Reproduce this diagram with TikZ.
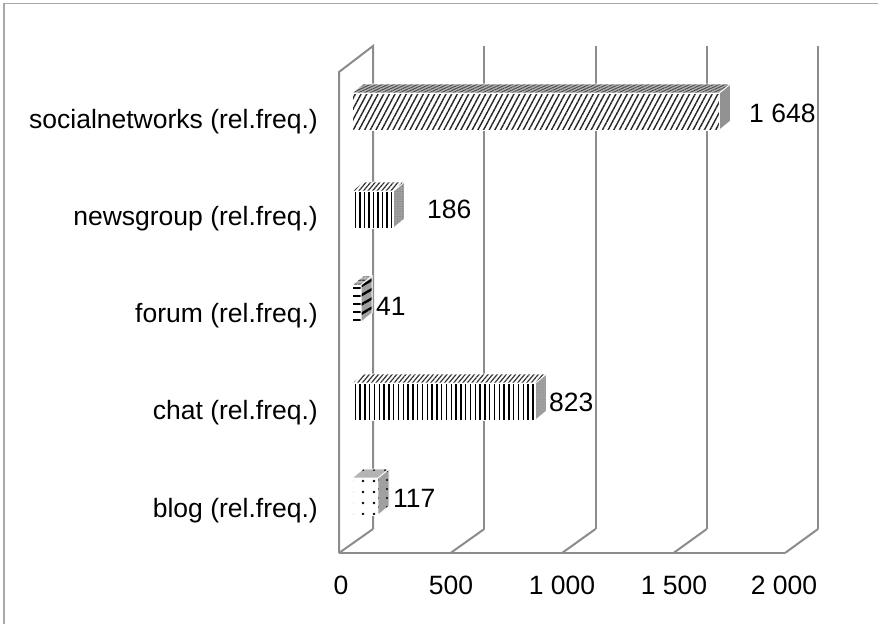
\documentclass[tikz,border=0pt]{standalone}
\usepackage{fontspec}
\setmainfont{Liberation Sans}
\usetikzlibrary{patterns.meta}
\definecolor{gridgray}{HTML}{8C8C8C}
\definecolor{framegray}{HTML}{A8A8A8}
\definecolor{sidegray}{HTML}{A0A0A0}
\definecolor{topgray}{HTML}{B4B4B4}

% one 3-D bar: #1 top of front face, #2 value, #3 front, #4 top, #5 side styles
\newcommand\chartbar[5]{%
  \pgfmathsetmacro\barend{352+#2*0.223}%
  \path[face,#4] (352,#1) -- (363,#1-9) -- (\barend+11,#1-9) -- (\barend,#1) -- cycle;
  \path[face,#3] (352,#1) rectangle (\barend,#1+37);
  \path[face,#5] (\barend,#1) -- (\barend+11,#1-9) -- (\barend+11,#1+28) -- (\barend,#1+37) -- cycle;
}

\begin{document}
\begin{tikzpicture}[x=1pt,y=-1pt,
  gridline/.style={draw=gridgray,line width=2pt},
  txt/.style={inner sep=0pt,font=\fontsize{26.5}{30}\selectfont},
  catlabel/.style={txt,anchor=base east},
  vallabel/.style={txt,anchor=base west},
  ticklabel/.style={txt,anchor=base},
  face/.style={preaction={fill=#1},draw=white,line width=0.8pt},
  face/.default=white]
\useasboundingbox (0,0) rectangle (878,624);
\fill[white] (0,0) rectangle (878,624);
\draw[framegray,line width=1.5pt] (4,624) -- (4,3.5) -- (878,3.5);

% walls, floor and gridlines
\draw[gridline] (339,553) -- (339,72) -- (373,46) -- (373,529);
\draw[gridline] (339,553) -- (785,553);
\foreach \k in {0,...,4} {
  \draw[gridline] (373+111.25*\k,529) -- (373+111.25*\k,46);
  \draw[gridline] (339+111.5*\k,553) -- (373+111.25*\k,529);
}

% bars
\chartbar{93}{1648}
  {pattern={Lines[angle=62,distance=5pt,line width=1.4pt]},pattern color=black!85}
  {face=topgray,pattern={Lines[angle=25,distance=2.5pt,line width=1pt]},pattern color=black!70}
  {face=sidegray,pattern={Dots[distance=2pt,radius=0.6pt]},pattern color=black!60}
\chartbar{191}{186}
  {pattern={Lines[angle=90,distance=4.5pt,line width=1.4pt]},pattern color=black}
  {pattern={Lines[angle=50,distance=3.5pt,line width=1.2pt]},pattern color=black!80}
  {face=sidegray,pattern={Dots[distance=2.5pt,radius=0.6pt]},pattern color=black!50}
\chartbar{285}{41}
  {pattern={Lines[angle=0,distance=8pt,line width=2pt]},pattern color=black}
  {face=topgray,pattern={Lines[angle=0,distance=4pt,line width=1.2pt]},pattern color=black!70}
  {face=sidegray,pattern={Lines[angle=30,distance=8pt,line width=2.4pt]},pattern color=black}
\chartbar{383}{823}
  {pattern={Lines[angle=90,distance=4.8pt,line width=1.4pt]},pattern color=black}
  {pattern={Lines[angle=50,distance=3.5pt,line width=1.2pt]},pattern color=black!80}
  {face=sidegray,pattern={Dots[distance=3pt,radius=0.6pt]},pattern color=black!45}
\chartbar{478}{117}
  {pattern={Dots[distance=11pt,radius=1.3pt]},pattern color=black}
  {face=topgray,pattern={Dots[distance=11pt,radius=1.2pt]},pattern color=black}
  {face=sidegray,pattern={Dots[distance=9pt,radius=1.1pt]},pattern color=black}

% category labels
\node[catlabel] (c1) at (318,128) {socialnetworks (rel.freq.)};
\node[catlabel] (c2) at (318,225.25) {newsgroup (rel.freq.)};
\node[catlabel] (c3) at (318,322.5) {forum (rel.freq.)};
\node[catlabel] (c4) at (318,419.75) {chat (rel.freq.)};
\node[catlabel] (c5) at (318,517) {blog (rel.freq.)};

% value labels
\node[vallabel] (v1) at (749,122) {1 648};
\node[vallabel] (v2) at (427,218) {186};
\node[vallabel] (v3) at (376,315) {41};
\node[vallabel] (v4) at (549,411) {823};
\node[vallabel] (v5) at (393,507) {117};

% axis tick labels
\node[ticklabel] (t0) at (341,594) {0};
\node[ticklabel] (t1) at (451,594) {500};
\node[ticklabel] (t2) at (562,594) {1 000};
\node[ticklabel] (t3) at (674,594) {1 500};
\node[ticklabel] (t4) at (784,594) {2 000};
\end{tikzpicture}
\end{document}
